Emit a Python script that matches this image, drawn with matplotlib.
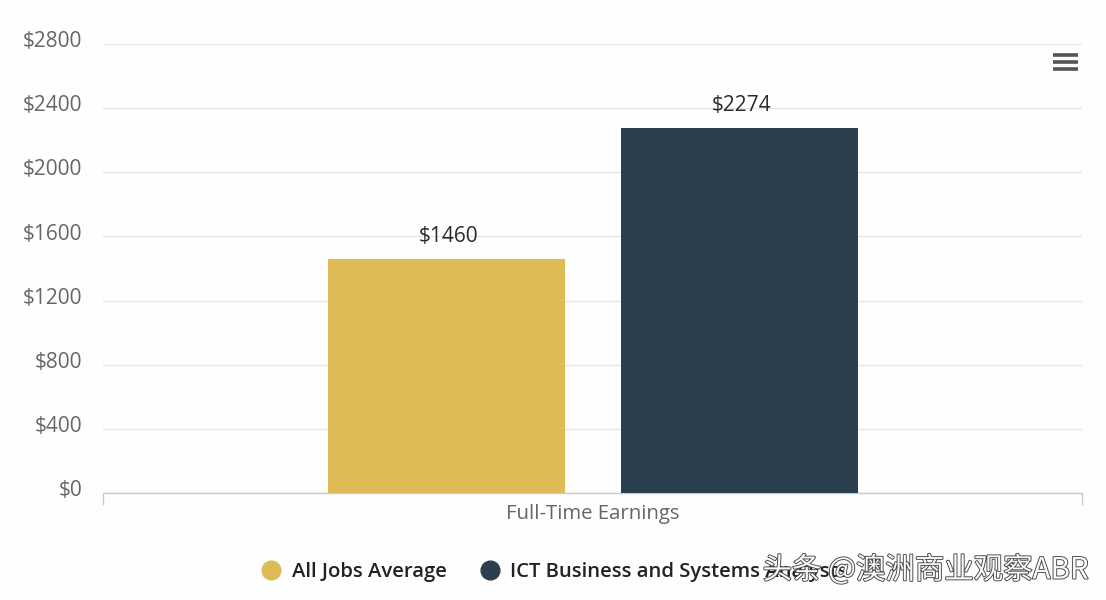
import matplotlib
matplotlib.use("Agg")
import matplotlib.pyplot as plt
import matplotlib.patheffects as pe
from matplotlib.lines import Line2D
from matplotlib.transforms import ScaledTranslation

series = ["All Jobs Average", "ICT Business and Systems Analysts"]
values = [1460, 2274]
colors = ["#DFBB55", "#2B3F4E"]
category = "Full-Time Earnings"
yticks = [0, 400, 800, 1200, 1600, 2000, 2400, 2800]
W, H = 1106, 600

plt.rcParams['font.family'] = ['Open Sans', 'DejaVu Sans']
fig = plt.figure(figsize=(W/100, H/100), dpi=100, facecolor="#FEFEFE")
ax = fig.add_axes([103/W, 1-493/H, 979/W, 449/H], facecolor="none")
ax.set_xlim(-0.5, 0.5)
ax.set_ylim(0, 2800)

offsets = [-0.149, 0.150]
for off, v, c in zip(offsets, values, colors):
    ax.bar(off, v, width=0.242, color=c, zorder=3)
    ax.annotate(f"${v}", (off, v), xytext=(2, 12), textcoords="offset pixels",
                ha="center", va="bottom", fontsize=15, color="#2A2A2A",
                fontweight="medium", zorder=4)

ax.set_yticks(yticks)
ax.set_yticklabels([f"${t}" for t in yticks], fontsize=15, color="#666666")
ax.tick_params(axis="y", length=0, pad=15)
shift = ScaledTranslation(0, 3.5/72, fig.dpi_scale_trans)
for lab in ax.get_yticklabels():
    lab.set_transform(lab.get_transform() + shift)
ax.grid(axis="y", color="#E6E6EA", lw=1, zorder=0)
ax.set_axisbelow(True)
for s in ["top", "right", "left"]:
    ax.spines[s].set_visible(False)
ax.spines["bottom"].set_color("#C5CBDD")
ax.spines["bottom"].set_linewidth(1)

ax.set_xticks([-0.5, 0.5], labels=["", ""])
ax.tick_params(axis="x", length=8.5, color="#C5CBDD", width=1)
ax.annotate(category, (0, 0), xytext=(0, -21), textcoords="offset pixels",
            ha="center", va="center", fontsize=14.7, color="#666666", annotation_clip=False)

handles = [Line2D([], [], ls="", marker="o", ms=13.5, color=c) for c in colors]
leg = fig.legend(handles, series, loc="center left", bbox_to_anchor=(251/W, 1-572/H),
                 ncol=2, frameon=False, labelcolor="#222222",
                 handletextpad=0.0, columnspacing=1.15, borderpad=0, borderaxespad=0,
                 prop={"weight": "semibold", "size": 14.6})

# menu icon
for y in (55, 62, 69):
    fig.add_artist(Line2D([1053/W, 1078/W], [1-y/H, 1-y/H], color="#555555", lw=2.6,
                          solid_capstyle="butt"))

# watermark
fig.text(1088/W, 1-570/H, "头条 @澳洲商业观察ABR", ha="right", va="center",
         fontsize=21.2, color="#FAFAFA", family=["Noto Sans CJK SC", "DejaVu Sans"],
         path_effects=[pe.withStroke(linewidth=1.3, foreground="#444444")], zorder=10)

fig.savefig("out.png", dpi=100, facecolor=fig.get_facecolor())
